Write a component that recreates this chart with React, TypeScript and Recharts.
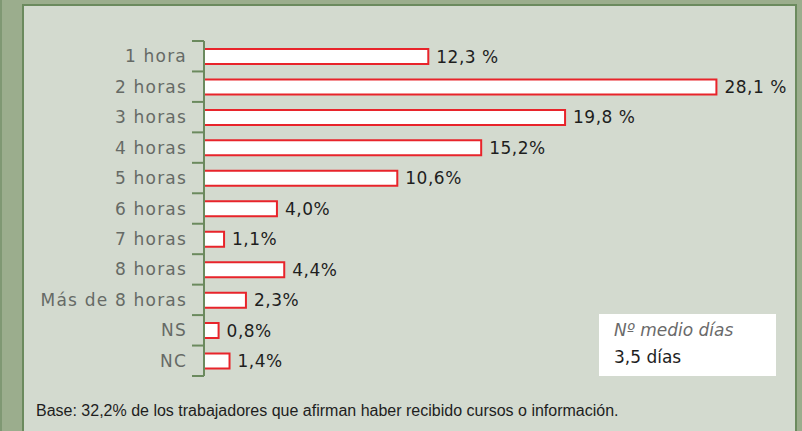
import { BarChart, Bar, XAxis, YAxis, LabelList } from 'recharts';

const categories = [
  '1 hora',
  '2 horas',
  '3 horas',
  '4 horas',
  '5 horas',
  '6 horas',
  '7 horas',
  '8 horas',
  'Más de 8 horas',
  'NS',
  'NC',
];
const values = [12.3, 28.1, 19.8, 15.2, 10.6, 4.0, 1.1, 4.4, 2.3, 0.8, 1.4];
const valueLabels = [
  '12,3 %',
  '28,1 %',
  '19,8 %',
  '15,2%',
  '10,6%',
  '4,0%',
  '1,1%',
  '4,4%',
  '2,3%',
  '0,8%',
  '1,4%',
];

const chartData = categories.map((name, i) => ({
  name,
  value: values[i],
  label: valueLabels[i],
}));

const AXIS_GREEN = '#6b8a5e';
const BAND = 335 / categories.length;
const FONT = "'DejaVu Sans', Verdana, sans-serif";

function CategoryTick(props: any) {
  const { x, y, payload, index } = props;
  const last = index === categories.length - 1;
  return (
    <g>
      <line x1={x - 12} x2={x} y1={y - BAND / 2} y2={y - BAND / 2} stroke={AXIS_GREEN} strokeWidth={2} />
      {last && (
        <line x1={x - 12} x2={x} y1={y + BAND / 2} y2={y + BAND / 2} stroke={AXIS_GREEN} strokeWidth={2} />
      )}
      <text
        x={x - 17}
        y={y}
        textAnchor="end"
        dominantBaseline="central"
        fill="#666a66"
        fontSize={17}
        letterSpacing={1.2}
        fontFamily={FONT}
      >
        {payload.value}
      </text>
    </g>
  );
}

export default function App() {
  return (
    <div
      style={{
        position: 'absolute',
        left: 0,
        top: 0,
        width: 802,
        height: 431,
        overflow: 'hidden',
        background: '#9bad8d',
        borderLeft: '2px solid #7f9873',
        boxSizing: 'border-box',
      }}
    >
      <div
        style={{
          position: 'absolute',
          left: 20,
          top: 4,
          width: 775,
          height: 460,
          background: '#d3dacf',
          border: `2px solid ${AXIS_GREEN}`,
          boxSizing: 'border-box',
        }}
      />
      <div style={{ position: 'absolute', left: -2, top: 0 }}>
        <BarChart
          width={802}
          height={431}
          layout="vertical"
          data={chartData}
          margin={{ top: 41, right: 40, bottom: 55, left: 0 }}
          barCategoryGap={0}
        >
          <XAxis type="number" domain={[0, 30.6]} hide />
          <YAxis
            type="category"
            dataKey="name"
            width={204}
            tickSize={0}
            tickMargin={0}
            tickLine={false}
            axisLine={{ stroke: AXIS_GREEN, strokeWidth: 2 }}
            tick={<CategoryTick />}
            interval={0}
          />
          <Bar
            dataKey="value"
            fill="#ffffff"
            stroke="#e8242b"
            strokeWidth={2}
            barSize={15}
            isAnimationActive={false}
          >
            <LabelList
              dataKey="label"
              position="right"
              offset={8}
              fill="#1e1e1e"
              fontSize={17}
              letterSpacing={0.5}
              fontFamily={FONT}
            />
          </Bar>
        </BarChart>
      </div>
      <div
        style={{
          position: 'absolute',
          left: 597,
          top: 314,
          width: 177,
          height: 62,
          background: '#ffffff',
          fontFamily: FONT,
          fontSize: 17,
        }}
      >
        <div style={{ position: 'absolute', left: 15, top: 6, color: '#6a6a6a', fontStyle: 'italic' }}>
          Nº medio días
        </div>
        <div style={{ position: 'absolute', left: 15, top: 33, color: '#1e1e1e' }}>3,5 días</div>
      </div>
      <div
        style={{
          position: 'absolute',
          left: 34,
          top: 402,
          fontFamily: "'Liberation Sans', Arial, sans-serif",
          fontSize: 16,
          color: '#1e1e1e',
        }}
      >
        Base: 32,2% de los trabajadores que afirman haber recibido cursos o información.
      </div>
    </div>
  );
}
